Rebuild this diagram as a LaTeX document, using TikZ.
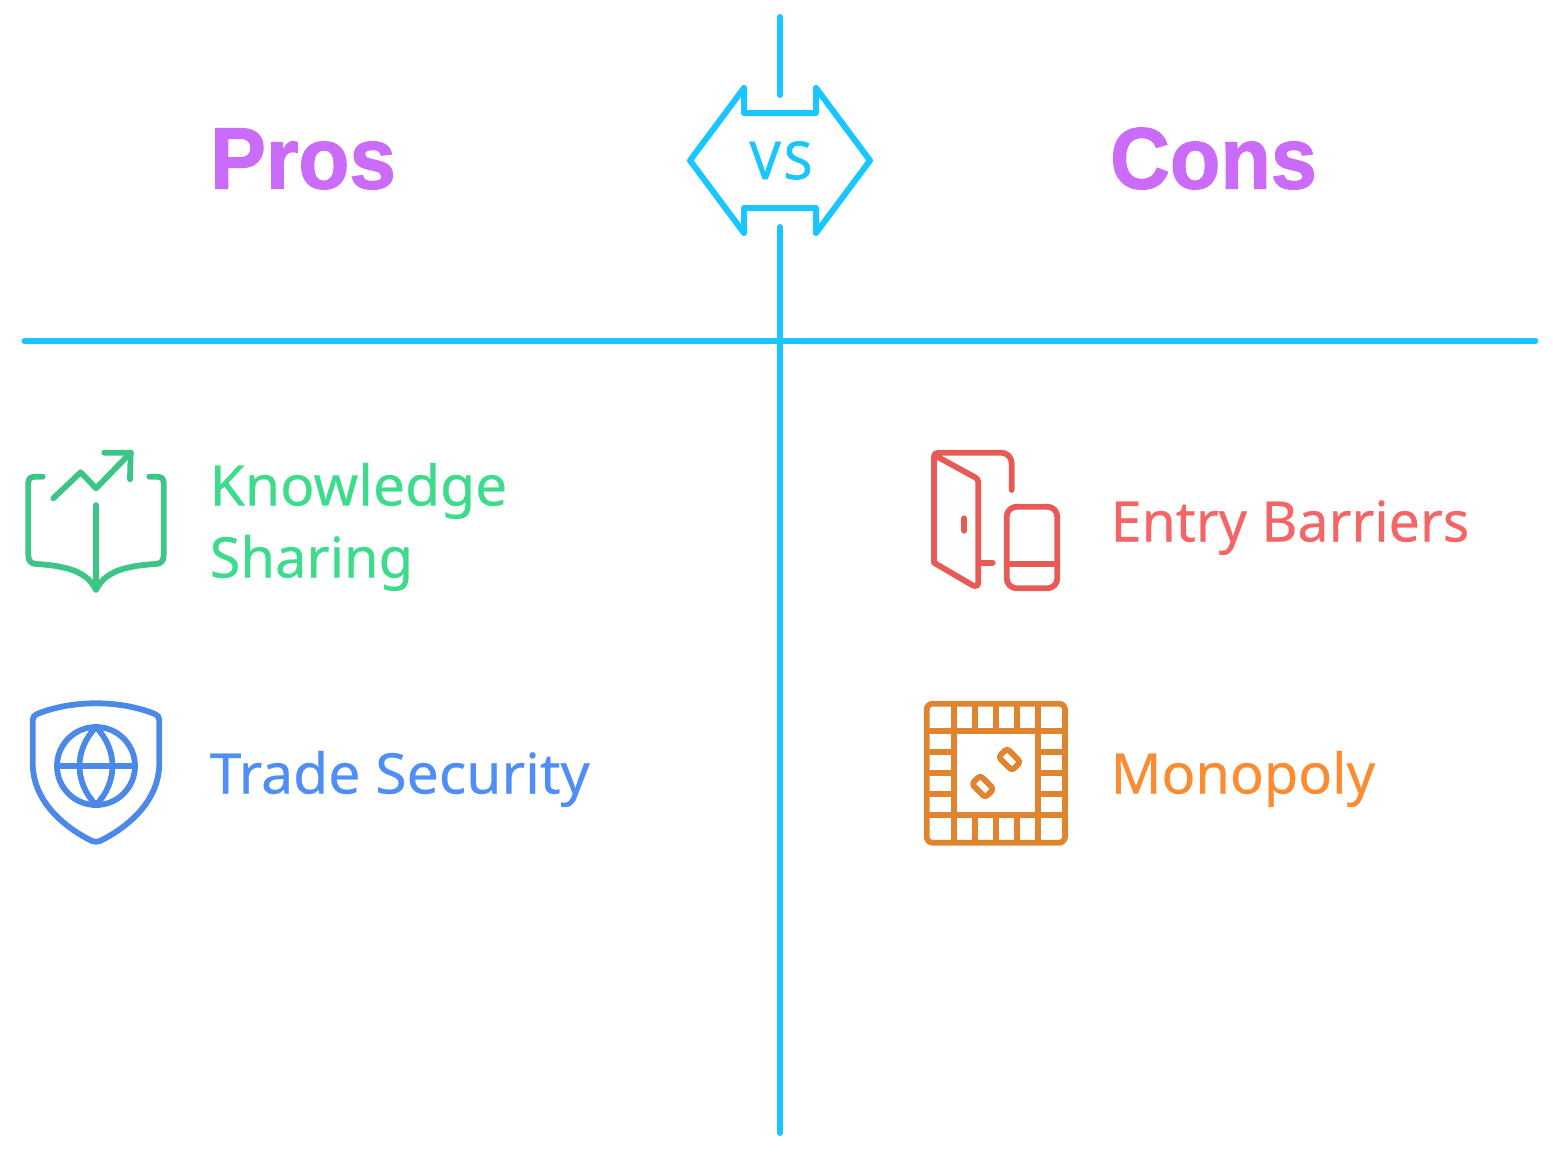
\documentclass[tikz,border=0pt]{standalone}
\usepackage{fontspec}
\setmainfont[FakeBold=0.35]{Noto Sans}
\newfontfamily\headfont[BoldFont={Liberation Sans Bold},BoldFeatures={FakeBold=1.5}]{Liberation Sans}
\newfontfamily\vsfont[FakeBold=1.2,LetterSpace=6]{Noto Sans}
\definecolor{vsblue}{HTML}{1AC6FF}
\definecolor{headc}{HTML}{CB6BFA}
\definecolor{kntext}{HTML}{3DDC8C}
\definecolor{knicon}{HTML}{3DC585}
\definecolor{trtext}{HTML}{4F8DF7}
\definecolor{tricon}{HTML}{4C88E8}
\definecolor{entext}{HTML}{F56565}
\definecolor{enicon}{HTML}{E85A55}
\definecolor{motext}{HTML}{FB8C32}
\definecolor{moicon}{HTML}{E08430}
\tikzset{
  rule/.style={draw=vsblue,line width=6pt,line cap=round,line join=round},
  icon/.style={line width=5.8pt,line cap=round,line join=round},
  head/.style={anchor=base west,inner sep=0pt,font=\fontsize{87}{87}\selectfont\headfont\bfseries,text=headc},
  item/.style={anchor=base west,inner sep=0pt,font=\fontsize{56}{72}\selectfont}
}
\begin{document}
\begin{tikzpicture}[x=1pt,y=-1pt]
\useasboundingbox (0,0) rectangle (1553,1152);
% rules
\coordinate (vt) at (780,17); \coordinate (vu) at (780,95);
\coordinate (vd) at (780,227); \coordinate (vb) at (780,1133);
\coordinate (hl) at (24.5,341); \coordinate (hr) at (1535.5,341);
\draw[rule] (vt) -- (vu);
\draw[rule] (vd) -- (vb);
\draw[rule] (hl) -- (hr);
% VS badge
\draw[rule] (690,160.5) -- (744,88) -- (744,113) -- (816,113) -- (816,88) -- (870,160.5) -- (816,233) -- (816,208) -- (744,208) -- (744,233) -- cycle;
\node[anchor=base,inner sep=0pt,text=vsblue,font=\fontsize{52}{52}\selectfont\vsfont] (vs) at (781,179) {VS};
% headings
\node[head] (pros) at (210,188.5) {\scalebox{0.96}[1]{Pros}};
\node[head] (cons) at (1110,188.5) {\scalebox{0.95}[1]{Cons}};
% texts
\node[item,text=kntext] (kn1) at (209.5,505.5) {\scalebox{1.017}[1]{Knowledge}};
\node[item,text=kntext] (kn2) at (209.5,577.5) {Sharing};
\node[item,text=trtext] (tr) at (209.5,793.5) {\scalebox{1.02}[1]{Trade Security}};
\node[item,text=entext] (en) at (1110.5,541.5) {\scalebox{0.99}[1]{Entry Barriers}};
\node[item,text=motext] (mo) at (1110.5,793.5) {Monopoly};
% book icon
\begin{scope}[icon,draw=knicon]
\draw (42.7,476.7) -- (35,476.7) .. controls (30.5,476.7) and (28.3,479) .. (28.3,483) -- (28.3,555) .. controls (28.3,561) and (31,564) .. (36.7,564) .. controls (70,566) and (88,573) .. (96,590) .. controls (104,573) and (122,566) .. (155.3,564) .. controls (161,564) and (163.7,561) .. (163.7,555) -- (163.7,483) .. controls (163.7,479) and (161.5,476.7) .. (157,476.7) -- (149.3,476.7);
\draw (96,505) -- (96,588);
\draw (53.3,498.3) -- (80.7,472.3) -- (96,488.3) -- (130.7,452.7);
\draw (104.3,452.7) -- (130.7,452.7) -- (130,479.3);
\end{scope}
% shield icon
\begin{scope}[icon,draw=tricon]
\draw (96,703.3) .. controls (72,703.3) and (52,708) .. (37,714) .. controls (34,715.5) and (32.7,717) .. (32.7,720) -- (32.7,763) .. controls (32.7,800) and (62,826) .. (92,841) .. controls (95,842) and (97,842) .. (100,841) .. controls (130,826) and (159.3,800) .. (159.3,763) -- (159.3,720) .. controls (159.3,717) and (158,715.5) .. (155,714) .. controls (140,708) and (120,703.3) .. (96,703.3) -- cycle;
\draw (96,766) circle[radius=39];
\draw (57,766) -- (135,766);
\draw (96,727) .. controls (74,750) and (74,782) .. (96,805) .. controls (118,782) and (118,750) .. (96,727) -- cycle;
\end{scope}
% door icon
\begin{scope}[icon,draw=enicon]
\draw (1011.7,490) -- (1011.7,465) .. controls (1011.7,457) and (1008,452.7) .. (1000,452.7) -- (938.3,452.7) .. controls (935.5,452.7) and (934,454) .. (934,456.7) -- (934,562.7) -- (972,585) .. controls (976,587) and (978.3,586) .. (978.3,582) -- (978.3,482) .. controls (978.3,480) and (977,478.5) .. (975,477.3) -- (936,456);
\draw (964.3,518.3) -- (964.3,530.7);
\draw (980,562.7) -- (992.7,562.7);
\draw[rounded corners=10pt] (1006.7,506.7) rectangle (1057.3,588.3);
\draw (1006.7,564.3) -- (1057.3,564.3);
\end{scope}
% board icon
\begin{scope}[icon,draw=moicon,line cap=butt]
\draw[rounded corners=6pt] (926.7,703.7) rectangle (1065,842.7);
\draw (954,703.7) -- (954,842.7) (1038.3,703.7) -- (1038.3,842.7);
\draw (926.7,731) -- (1065,731) (926.7,814.7) -- (1065,814.7);
\foreach \tx in {975,996,1017} {
  \draw (\tx,703.7) -- (\tx,731) (\tx,814.7) -- (\tx,842.7);
}
\foreach \ty in {752,773,794} {
  \draw (926.7,\ty) -- (954,\ty) (1038.3,\ty) -- (1065,\ty);
}
\draw[rounded corners=3pt,shift={(1009.5,759.5)},rotate=-45] (-9.5,-6) rectangle (9.5,6);
\draw[rounded corners=3pt,shift={(982.7,786.5)},rotate=-45] (-9.5,-6) rectangle (9.5,6);
\end{scope}
\end{tikzpicture}
\end{document}
